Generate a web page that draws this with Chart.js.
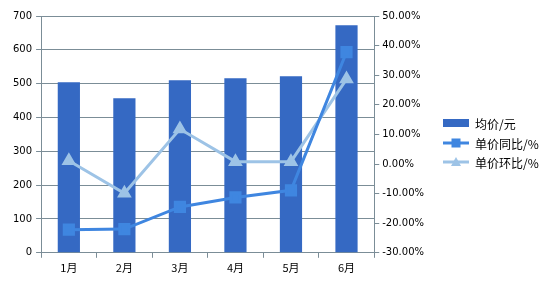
<!DOCTYPE html>
<html>
<head>
<meta charset="utf-8">
<script src="https://cdn.jsdelivr.net/npm/chart.js@4"></script>
<style>
  html, body { margin: 0; padding: 0; background: #fff; }
  #wrap { width: 556px; height: 288px; }
</style>
</head>
<body>
<div id="wrap"><canvas id="c" width="556" height="288"></canvas></div>
<script>
// chart data
const months = ["1月", "2月", "3月", "4月", "5月", "6月"];
const avgPrice = [504, 457, 510, 516, 522, 673];
const yoyPct = [-22.2, -22.0, -14.5, -11.3, -8.9, 37.8];
const momPct = [1.1, -9.9, 11.8, 0.8, 0.8, 28.7];
const seriesNames = ["均价/元", "单价同比/%", "单价环比/%"];

const barColor = "#3569c3";
const yoyColor = "#3f86e0";
const momColor = "#9dc3e6";
const gridColor = "#7b8d97";
const numFont = { family: "DejaVu Sans", size: 10 };

// draws legend to the right of the chart, Excel style
const sideLegend = {
  id: "sideLegend",
  afterDraw(chart) {
    const ctx = chart.ctx;
    const x0 = 443, x1 = 469, tx = 475;
    const rows = [123, 143, 162];
    ctx.save();
    ctx.font = "12px 'Noto Sans CJK SC'";
    ctx.textBaseline = "middle";

    ctx.fillStyle = barColor;
    ctx.fillRect(x0, rows[0] - 4, x1 - x0, 8);

    [[yoyColor, "rect"], [momColor, "tri"]].forEach(([col, shape], i) => {
      const y = rows[i + 1];
      ctx.strokeStyle = col;
      ctx.lineWidth = 3;
      ctx.beginPath();
      ctx.moveTo(x0, y);
      ctx.lineTo(x1, y);
      ctx.stroke();
      ctx.fillStyle = col;
      const cx = (x0 + x1) / 2;
      if (shape === "rect") {
        ctx.fillRect(cx - 4.5, y - 4.5, 9, 9);
      } else {
        ctx.beginPath();
        ctx.moveTo(cx, y - 5);
        ctx.lineTo(cx + 5, y + 4);
        ctx.lineTo(cx - 5, y + 4);
        ctx.closePath();
        ctx.fill();
      }
    });

    ctx.fillStyle = "#000";
    seriesNames.forEach((n, i) => ctx.fillText(n, tx, rows[i] + 1));
    ctx.restore();
  }
};

new Chart(document.getElementById("c"), {
  data: {
    labels: months,
    datasets: [
      {
        type: "bar",
        label: seriesNames[0],
        data: avgPrice,
        backgroundColor: barColor,
        yAxisID: "y",
        barPercentage: 0.8,
        categoryPercentage: 0.5,
        order: 3
      },
      {
        type: "line",
        label: seriesNames[1],
        data: yoyPct,
        borderColor: yoyColor,
        backgroundColor: yoyColor,
        borderWidth: 3,
        pointStyle: "rect",
        pointRadius: 6.5,
        pointHoverRadius: 6.5,
        tension: 0,
        yAxisID: "y1",
        order: 1
      },
      {
        type: "line",
        label: seriesNames[2],
        data: momPct,
        borderColor: momColor,
        backgroundColor: momColor,
        borderWidth: 3,
        pointStyle: "triangle",
        pointRadius: 5.5,
        pointHoverRadius: 5.5,
        tension: 0,
        yAxisID: "y1",
        order: 2
      }
    ]
  },
  options: {
    responsive: false,
    animation: false,
    events: [],
    layout: { padding: { left: 9, top: 16, right: 129, bottom: 11 } },
    plugins: {
      legend: { display: false },
      tooltip: { enabled: false }
    },
    scales: {
      x: {
        grid: { display: true, drawOnChartArea: false, offset: true, color: gridColor, tickLength: 5 },
        border: { color: gridColor },
        ticks: { color: "#000", font: { family: "Noto Sans CJK SC", size: 11 }, padding: 3 }
      },
      y: {
        position: "left",
        min: 0,
        max: 700,
        ticks: { stepSize: 100, color: "#000", font: numFont, padding: 4 },
        grid: { color: gridColor, tickLength: 5 },
        border: { color: gridColor }
      },
      y1: {
        position: "right",
        min: -30,
        max: 50,
        ticks: {
          stepSize: 10,
          color: "#000",
          font: numFont,
          padding: 3,
          callback: v => v.toFixed(2) + "%"
        },
        grid: { drawOnChartArea: false, color: gridColor, tickLength: 5 },
        border: { color: gridColor }
      }
    }
  },
  plugins: [sideLegend]
});
</script>
</body>
</html>
